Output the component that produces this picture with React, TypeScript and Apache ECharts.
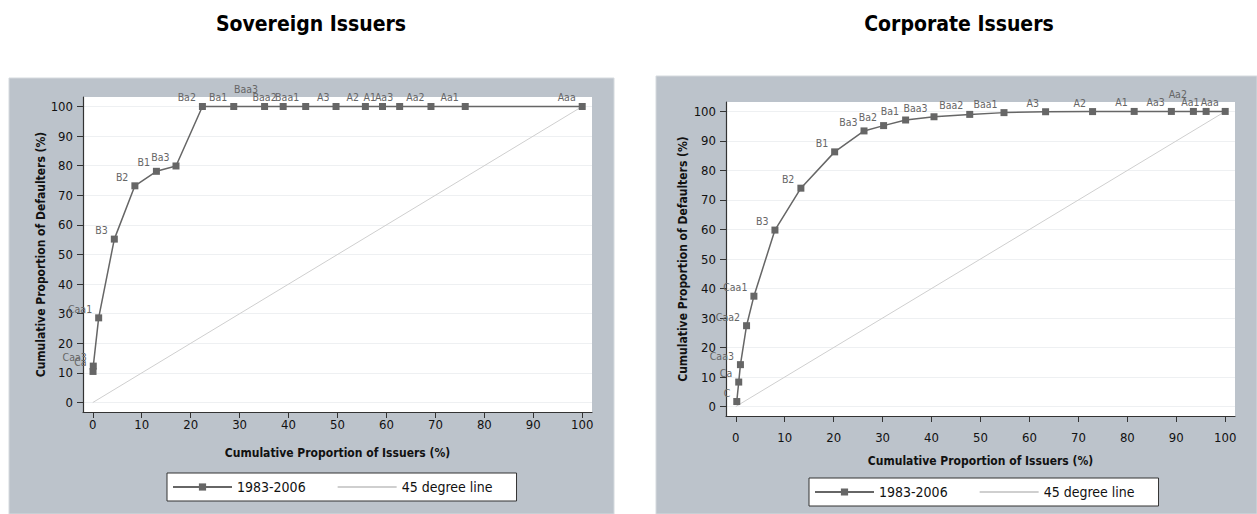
import React, { useEffect, useRef } from 'react';
import * as echarts from 'echarts';

// ---------- data ----------
const panelTitles = ['Sovereign Issuers', 'Corporate Issuers'];
const seriesNames = ['1983-2006', '45 degree line'];
const xAxisTitle = 'Cumulative Proportion of Issuers (%)';
const yAxisTitle = 'Cumulative Proportion of Defaulters (%)';
const axisTickValues = [0, 10, 20, 30, 40, 50, 60, 70, 80, 90, 100];

const sovRatings = ['Ca', 'Caa3', 'Caa1', 'B3', 'B2', 'B1', 'Ba3', 'Ba2', 'Ba1', 'Baa3', 'Baa2', 'Baa1', 'A3', 'A2', 'A1', 'Aa3', 'Aa2', 'Aa1', 'Aaa'];
const sovIssuersPct = [0.05, 0.1, 1.2, 4.4, 8.6, 13.0, 17.0, 22.4, 28.8, 35.1, 38.9, 43.5, 49.7, 55.7, 59.2, 62.7, 69.1, 76.1, 100];
const sovDefaultersPct = [10.5, 12.3, 28.6, 55.2, 73.2, 78.1, 79.9, 100, 100, 100, 100, 100, 100, 100, 100, 100, 100, 100, 100];

const corpRatings = ['C', 'Ca', 'Caa3', 'Caa2', 'Caa1', 'B3', 'B2', 'B1', 'Ba3', 'Ba2', 'Ba1', 'Baa3', 'Baa2', 'Baa1', 'A3', 'A2', 'A1', 'Aa3', 'Aa2', 'Aa1', 'Aaa'];
const corpIssuersPct = [0.2, 0.6, 0.95, 2.2, 3.7, 8.0, 13.3, 20.2, 26.2, 30.2, 34.7, 40.5, 47.8, 54.8, 63.3, 72.9, 81.4, 89.0, 93.5, 96.1, 100];
const corpDefaultersPct = [1.7, 8.3, 14.2, 27.4, 37.4, 59.8, 74.0, 86.3, 93.4, 95.2, 97.1, 98.2, 99.0, 99.6, 99.9, 99.95, 100, 100, 100, 100, 100];

const diagonalX = [0, 100];
const diagonalY = [0, 100];

// labels that sit higher to avoid overlap
const raisedLabels = [['Baa3'], ['Aa2']];

// ---------- styling ----------
const FONT = '"Liberation Sans Narrow", "Arial Narrow", "DejaVu Sans Condensed", sans-serif';
const PANEL_BG = '#bcc3cb';
const LINE_COLOR = '#666666';

const layouts = [
  { grid: { left: 83, top: 97, width: 509, height: 315 }, bg: [9, 78, 605, 436], titleX: 311, legend: { left: 167, top: 473 }, xLabelMargin: 6, xNameGap: 35, yNameGap: 36 },
  { grid: { left: 726, top: 102, width: 509, height: 314 }, bg: [656, 76, 601, 438], titleX: 959, legend: { left: 809, top: 478 }, xLabelMargin: 15, xNameGap: 39, yNameGap: 37 },
];

function buildPoints(ratings: string[], xs: number[], ys: number[], raised: string[]) {
  return ratings.map((r, i) => {
    const item: any = { name: r, value: [xs[i], ys[i]] };
    if (raised.indexOf(r) >= 0) item.label = { offset: [0, -17] };
    return item;
  });
}

export default function App() {
  const ref = useRef<HTMLDivElement>(null);
  useEffect(() => {
    if (!ref.current) return;
    const chart = echarts.init(ref.current, undefined, { renderer: 'svg' });
    const datasets = [
      buildPoints(sovRatings, sovIssuersPct, sovDefaultersPct, raisedLabels[0]),
      buildPoints(corpRatings, corpIssuersPct, corpDefaultersPct, raisedLabels[1]),
    ];
    const diagonal = diagonalX.map((x, i) => [x, diagonalY[i]]);

    const grids: any[] = [];
    const xAxes: any[] = [];
    const yAxes: any[] = [];
    const series: any[] = [];
    const legends: any[] = [];
    const graphics: any[] = [];

    layouts.forEach((L, i) => {
      graphics.push({
        type: 'rect', z: -10, silent: true,
        shape: { x: L.bg[0], y: L.bg[1], width: L.bg[2], height: L.bg[3] },
        style: { fill: PANEL_BG, stroke: '#d5dade', lineWidth: 1 },
      });
      graphics.push({
        type: 'text', z: 10,
        x: L.titleX, y: 24,
        style: { text: panelTitles[i], font: `bold 21px ${FONT}`, fill: '#000', textAlign: 'center', textVerticalAlign: 'middle' },
      });
      grids.push({ ...L.grid, show: true, backgroundColor: '#ffffff', borderWidth: 0, containLabel: false });
      const axisLine = { show: true, onZero: false, lineStyle: { color: '#333', width: 1.2 } };
      xAxes.push({
        type: 'value', gridIndex: i, min: -2, max: 102,
        axisLine,
        axisTick: { show: true, length: 6, customValues: axisTickValues, lineStyle: { color: '#333', width: 1 } },
        axisLabel: { customValues: axisTickValues, margin: L.xLabelMargin, fontSize: 13, color: '#111', fontFamily: FONT },
        splitLine: { show: false },
        name: xAxisTitle, nameLocation: 'middle', nameGap: L.xNameGap,
        nameTextStyle: { fontWeight: 'bold', fontSize: 12, color: '#111', fontFamily: FONT },
      });
      yAxes.push({
        type: 'value', gridIndex: i, min: -3.2, max: 103.2,
        axisLine,
        axisTick: { show: true, length: 6, customValues: axisTickValues, lineStyle: { color: '#333', width: 1 } },
        axisLabel: { customValues: axisTickValues, margin: 10, fontSize: 13, color: '#111', fontFamily: FONT },
        splitLine: { show: true, lineStyle: { color: '#eef0f2', width: 1 } },
        name: yAxisTitle, nameLocation: 'middle', nameGap: L.yNameGap, nameRotate: 90,
        nameTextStyle: { fontWeight: 'bold', fontSize: 12, color: '#111', fontFamily: FONT },
      });
      series.push({
        type: 'line', name: seriesNames[1], xAxisIndex: i, yAxisIndex: i,
        data: diagonal, symbol: 'none', showSymbol: false,
        lineStyle: { color: '#cfcfcf', width: 1 }, itemStyle: { color: '#cfcfcf' }, z: 2,
      });
      series.push({
        type: 'line', name: seriesNames[0], xAxisIndex: i, yAxisIndex: i,
        data: datasets[i], symbol: 'rect', symbolSize: 7, clip: false,
        lineStyle: { color: LINE_COLOR, width: 1.5 }, itemStyle: { color: LINE_COLOR },
        label: { show: true, formatter: '{b}', position: 'left', distance: 3, offset: [0, -9], fontSize: 10.5, color: '#666', fontFamily: FONT },
        z: 3,
      });
      legends.push({
        left: L.legend.left, top: L.legend.top, orient: 'horizontal',
        backgroundColor: '#fff', borderColor: '#333', borderWidth: 1, borderRadius: 0,
        padding: [7, 24, 7, 5], itemWidth: 59, itemHeight: 9, itemGap: 31,
        selectedMode: false,
        textStyle: { fontSize: 14, color: '#111', fontFamily: FONT },
        data: [seriesNames[0], { name: seriesNames[1], itemStyle: { opacity: 0 } }],
      });
    });

    chart.setOption({
      animation: false,
      backgroundColor: '#ffffff',
      grid: grids,
      xAxis: xAxes,
      yAxis: yAxes,
      series,
      legend: legends,
      graphic: graphics,
    });
    return () => chart.dispose();
  }, []);
  return <div ref={ref} style={{ position: 'absolute', left: 0, top: 0, width: 1257, height: 514 }} />;
}
